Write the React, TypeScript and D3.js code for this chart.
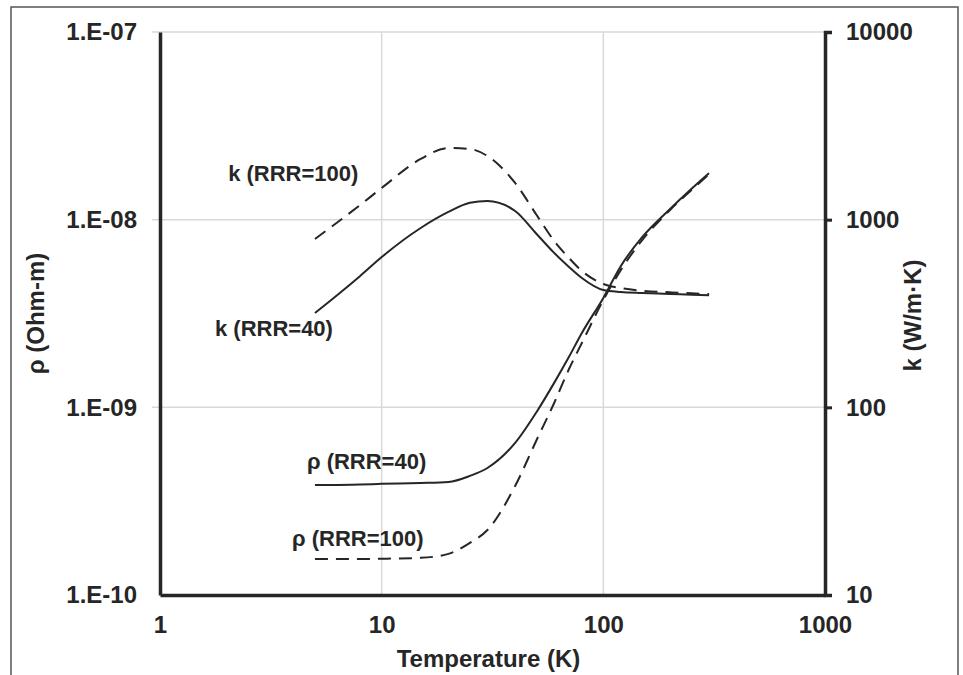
import React, { useEffect, useRef } from "react";
import * as d3 from "d3";

// temperature points (K) shared by all four curves
const temps = [5, 6, 8, 10, 15, 20, 25, 30, 40, 50, 60, 70, 80, 100, 120, 150, 200, 250, 300];

// electrical resistivity (Ohm-m)
const rho40 = [3.86e-10, 3.86e-10, 3.88e-10, 3.91e-10, 3.95e-10, 4.0e-10, 4.31e-10, 4.75e-10, 6.46e-10, 9.45e-10, 1.35e-9, 1.86e-9, 2.49e-9, 3.83e-9, 5.67e-9, 8.09e-9, 1.14e-8, 1.46e-8, 1.77e-8];
const rho100 = [1.556e-10, 1.556e-10, 1.556e-10, 1.56e-10, 1.578e-10, 1.656e-10, 1.896e-10, 2.22e-10, 3.81e-10, 6.7e-10, 1.055e-9, 1.6e-9, 2.2e-9, 3.73e-9, 5.4e-9, 7.8e-9, 1.127e-8, 1.44e-8, 1.75e-8];

// thermal conductivity (W/m·K)
const k40 = [318, 378, 501, 632, 903, 1099, 1230, 1258, 1112, 839, 665, 560, 489, 422, 412, 407, 402, 398, 395];
const k100 = [789, 925, 1198, 1475, 2106, 2410, 2381, 2185, 1569, 1059, 770, 625, 533, 454, 432, 418, 410, 405, 402];

const xTicks = [1, 10, 100, 1000];
const rhoTicks = [1e-10, 1e-9, 1e-8, 1e-7];
const rhoTickLabels = ["1.E-10", "1.E-09", "1.E-08", "1.E-07"];
const kTicks = [10, 100, 1000, 10000];

// curve labels, anchored in data units
const labels = [
    { text: "k (RRR=100)", T: 2.03, v: 1607, axis: "k" },
    { text: "k (RRR=40)", T: 1.77, v: 240, axis: "k" },
    { text: "ρ (RRR=40)", T: 4.6, v: 4.69e-10, axis: "rho" },
    { text: "ρ (RRR=100)", T: 3.94, v: 1.83e-10, axis: "rho" },
];

const W = 963;
const H = 675;
const margin = { top: 32, right: 138, bottom: 80, left: 160 };
const ink = "#262626";
const font = "'Liberation Sans', Arial, sans-serif";

function App() {
    const ref = useRef(null);

    useEffect(() => {
        const svg = d3
            .select(ref.current)
            .append("svg")
            .attr("width", W)
            .attr("height", H)
            .style("position", "absolute")
            .style("left", 0)
            .style("top", 0)
            .style("font-family", font);

        svg.append("rect").attr("width", W).attr("height", H).attr("fill", "white");

        // outer frame (bottom edge is cut off in the picture)
        svg
            .append("rect")
            .attr("x", 11)
            .attr("y", 7)
            .attr("width", 947)
            .attr("height", 720)
            .attr("fill", "none")
            .attr("stroke", "#555")
            .attr("stroke-width", 1.5);

        const x = d3.scaleLog().domain([1, 1000]).range([margin.left, W - margin.right]);
        const yRho = d3.scaleLog().domain([1e-10, 1e-7]).range([H - margin.bottom, margin.top]);
        const yK = d3.scaleLog().domain([10, 10000]).range([H - margin.bottom, margin.top]);

        // gridlines
        const grid = svg.append("g").attr("stroke", "#d9d9d9").attr("stroke-width", 1.5);
        grid
            .selectAll("line.v")
            .data(xTicks.slice(1, 3))
            .join("line")
            .attr("x1", (d) => x(d))
            .attr("x2", (d) => x(d))
            .attr("y1", margin.top)
            .attr("y2", H - margin.bottom);
        grid
            .selectAll("line.h")
            .data(rhoTicks.slice(1))
            .join("line")
            .attr("x1", margin.left - 8)
            .attr("x2", W - margin.right)
            .attr("y1", (d) => yRho(d))
            .attr("y2", (d) => yRho(d));

        // axes
        const styleAxis = (g) => {
            g.select(".domain").attr("stroke", ink).attr("stroke-width", 3.5);
            g.selectAll(".tick line").attr("stroke", ink).attr("stroke-width", 3);
            g.selectAll("text")
                .attr("fill", ink)
                .style("font-size", "24px")
                .style("font-weight", "bold")
                .style("font-family", font);
        };

        svg
            .append("g")
            .attr("transform", `translate(0,${H - margin.bottom})`)
            .call(
                d3.axisBottom(x).tickValues(xTicks).tickSize(0).tickSizeOuter(0).tickPadding(21).tickFormat(d3.format("d"))
            )
            .call(styleAxis);

        svg
            .append("g")
            .attr("transform", `translate(${margin.left},0)`)
            .call(
                d3
                    .axisLeft(yRho)
                    .tickValues(rhoTicks)
                    .tickSize(0)
                    .tickSizeOuter(0)
                    .tickPadding(23)
                    .tickFormat((d, i) => rhoTickLabels[i])
            )
            .call(styleAxis);

        svg
            .append("g")
            .attr("transform", `translate(${W - margin.right},0)`)
            .call(d3.axisRight(yK).tickValues(kTicks).tickSize(7).tickSizeOuter(7).tickPadding(14).tickFormat(d3.format("d")))
            .call(styleAxis);

        // axis titles
        const title = (sel) =>
            sel.attr("fill", ink).style("font-size", "24px").style("font-weight", "bold").attr("text-anchor", "middle");
        svg
            .append("text")
            .attr("x", (margin.left + W - margin.right) / 2 - 4)
            .attr("y", 667)
            .text("Temperature (K)")
            .call(title);
        svg
            .append("text")
            .attr("transform", `translate(44,${(margin.top + H - margin.bottom) / 2}) rotate(-90)`)
            .text("ρ (Ohm-m)")
            .call(title);
        svg
            .append("text")
            .attr("transform", `translate(921,${(margin.top + H - margin.bottom) / 2 + 2}) rotate(-90)`)
            .text("k (W/m·K)")
            .call(title);

        // curves
        const series = [
            { vals: k100, y: yK, dash: "13,8" },
            { vals: k40, y: yK, dash: null },
            { vals: rho100, y: yRho, dash: "13,8" },
            { vals: rho40, y: yRho, dash: null },
        ];
        series.forEach((s) => {
            const line = d3
                .line()
                .x((d, i) => x(temps[i]))
                .y((d) => s.y(d))
                .curve(d3.curveMonotoneX);
            svg
                .append("path")
                .datum(s.vals)
                .attr("d", line)
                .attr("fill", "none")
                .attr("stroke", ink)
                .attr("stroke-width", 2)
                .attr("stroke-dasharray", s.dash);
        });

        // curve labels
        svg
            .append("g")
            .selectAll("text")
            .data(labels)
            .join("text")
            .attr("x", (d) => x(d.T))
            .attr("y", (d) => (d.axis === "k" ? yK(d.v) : yRho(d.v)))
            .attr("fill", ink)
            .style("font-size", "22px")
            .style("font-weight", "bold")
            .text((d) => d.text);

        return () => svg.remove();
    }, []);

    return <div ref={ref}></div>;
}

export default App;
